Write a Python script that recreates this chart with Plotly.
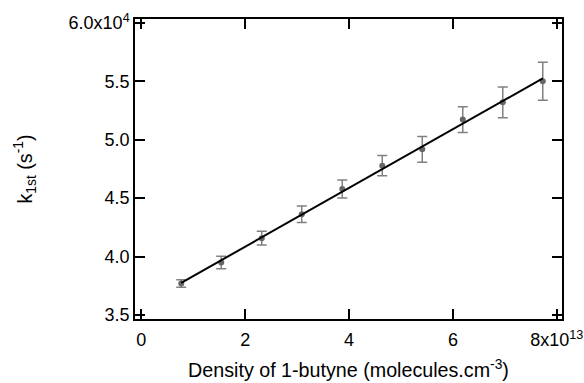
import numpy as np
import plotly.graph_objects as go

# Density of 1-butyne (units of 1e13 molecules cm^-3)
density = [0.77, 1.54, 2.32, 3.09, 3.87, 4.64, 5.41, 6.19, 6.96, 7.73]
# k_1st (units of 1e4 s^-1)
k1st = [3.770, 3.950, 4.158, 4.362, 4.578, 4.778, 4.918, 5.172, 5.320, 5.500]
k1st_err = [0.032, 0.054, 0.058, 0.071, 0.077, 0.087, 0.110, 0.110, 0.132, 0.163]

x_tickvals = [0, 2, 4, 6, 8]
x_ticktext = ["0", "2", "4", "6", "8x10<sup>13</sup>"]
y_tickvals = [3.5, 4.0, 4.5, 5.0, 5.5, 6.0]
y_ticktext = ["3.5", "4.0", "4.5", "5.0", "5.5", "6.0x10<sup>4</sup>"]

slope, intercept = np.polyfit(density, k1st, 1)
fit_x = [density[0], density[-1]]
fit_y = [slope * v + intercept for v in fit_x]

fig = go.Figure()
fig.add_trace(go.Scatter(
    x=density, y=k1st, mode="markers",
    marker=dict(color="#666666", size=6),
    error_y=dict(type="data", array=k1st_err, color="#808080", thickness=1.5, width=5),
    showlegend=False,
))
fig.add_trace(go.Scatter(
    x=fit_x, y=fit_y, mode="lines",
    line=dict(color="black", width=2), showlegend=False,
))

tick_font = dict(family="Liberation Sans, Arial, sans-serif", size=18, color="black")
title_font = dict(family="Liberation Sans, Arial, sans-serif", size=19.7, color="black")
axis_common = dict(
    showgrid=False, zeroline=False, showline=True, linecolor="black", linewidth=1.5,
    ticks="inside", ticklen=10, tickwidth=1.5, tickcolor="black", mirror="ticks",
    tickfont=tick_font, automargin=False,
)
fig.update_layout(
    width=584, height=383,
    margin=dict(l=135, r=22, t=19, b=64),
    paper_bgcolor="white", plot_bgcolor="white",
    font=tick_font,
    xaxis=dict(range=[-0.12, 8.1], tickvals=x_tickvals, ticktext=x_ticktext,
               ticklabelstandoff=4,
               title=dict(text="Density of 1-butyne (molecules.cm<sup>-3</sup>)", font=title_font, standoff=14),
               **axis_common),
    yaxis=dict(range=[3.466, 6.033], tickvals=y_tickvals, ticktext=y_ticktext,
               title=dict(text="k<sub>1st</sub> (s<sup>-1</sup>)", font=title_font, standoff=31),
               **axis_common),
)
fig.write_html("out.html")
